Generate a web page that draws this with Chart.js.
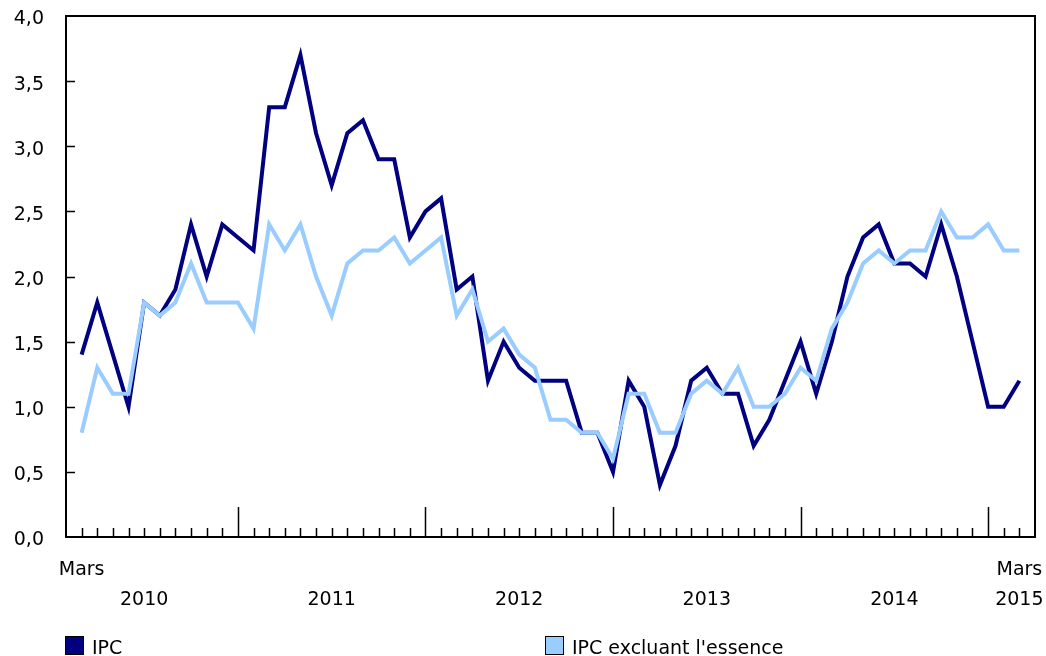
<!DOCTYPE html>
<html lang="fr">
<head>
<meta charset="utf-8">
<title>IPC et IPC excluant l'essence</title>
<script src="https://cdn.jsdelivr.net/npm/chart.js@4"></script>
<style>
  body { margin: 0; background: #fff; font-family: "DejaVu Sans", Verdana, sans-serif; }
  #wrap { position: relative; width: 1046px; height: 656px; overflow: hidden; }
  #chart { position: absolute; left: 0; top: 0; }
  .leg { position: absolute; top: 637px; font-size: 19px; line-height: 20px; color: #000; white-space: nowrap; }
  .leg span { display: inline-block; width: 17px; height: 17px; border: 1.5px solid #000; vertical-align: top; margin: -1px 8px 0 0; }
</style>
</head>
<body>
<div id="wrap">
  <canvas id="chart" width="1046" height="656"></canvas>
  <div class="leg" style="left:65px"><span style="background:#000080"></span>IPC</div>
  <div class="leg" style="left:545px"><span style="background:#99ccff"></span>IPC excluant l'essence</div>
</div>
<script>
// mars 2010 a mars 2015, variation en % d'une annee a l'autre
const premierMois = 'Mars';
const annees = ['2010', '2011', '2012', '2013', '2014', '2015'];
const ipc = [
  1.4, 1.8, 1.4, 1.0, 1.8, 1.7, 1.9, 2.4, 2.0, 2.4,
  2.3, 2.2, 3.3, 3.3, 3.7, 3.1, 2.7, 3.1, 3.2, 2.9, 2.9, 2.3,
  2.5, 2.6, 1.9, 2.0, 1.2, 1.5, 1.3, 1.2, 1.2, 1.2, 0.8, 0.8,
  0.5, 1.2, 1.0, 0.4, 0.7, 1.2, 1.3, 1.1, 1.1, 0.7, 0.9, 1.2,
  1.5, 1.1, 1.5, 2.0, 2.3, 2.4, 2.1, 2.1, 2.0, 2.4, 2.0, 1.5,
  1.0, 1.0, 1.2
];
const ipcSansEssence = [
  0.8, 1.3, 1.1, 1.1, 1.8, 1.7, 1.8, 2.1, 1.8, 1.8,
  1.8, 1.6, 2.4, 2.2, 2.4, 2.0, 1.7, 2.1, 2.2, 2.2, 2.3, 2.1,
  2.2, 2.3, 1.7, 1.9, 1.5, 1.6, 1.4, 1.3, 0.9, 0.9, 0.8, 0.8,
  0.6, 1.1, 1.1, 0.8, 0.8, 1.1, 1.2, 1.1, 1.3, 1.0, 1.0, 1.1,
  1.3, 1.2, 1.6, 1.8, 2.1, 2.2, 2.1, 2.2, 2.2, 2.5, 2.3, 2.3,
  2.4, 2.2, 2.2
];
const yTicks = [0, 0.5, 1, 1.5, 2, 2.5, 3, 3.5, 4];

const dernier = ipc.length - 1;
// index 0 = mars, donc janvier tombe quand (i + 2) % 12 == 0
const estJanvier = i => (i + 2) % 12 === 0;
const police = '19px "DejaVu Sans", Verdana, sans-serif';

const cadrePlugin = {
  id: 'cadre',
  afterDatasetsDraw(chart) {
    const { ctx, chartArea: a, scales: { x, y } } = chart;
    ctx.save();
    ctx.strokeStyle = '#000';

    // petites graduations vers l'interieur
    ctx.lineWidth = 1.5;
    ctx.beginPath();
    for (let i = 0; i <= dernier; i++) {
      const px = Math.round(x.getPixelForValue(i)) + 0.5;
      ctx.moveTo(px, a.bottom);
      ctx.lineTo(px, a.bottom - (estJanvier(i) ? 30 : 9));
    }
    yTicks.slice(1, -1).forEach(v => {
      const py = Math.round(y.getPixelForValue(v)) + 0.5;
      ctx.moveTo(a.left, py);
      ctx.lineTo(a.left + 9, py);
    });
    ctx.stroke();

    ctx.lineWidth = 2;
    ctx.strokeRect(a.left, a.top, a.right - a.left, a.bottom - a.top);

    // etiquettes de l'axe des x
    ctx.fillStyle = '#000';
    ctx.font = police;
    ctx.textAlign = 'center';
    ctx.textBaseline = 'middle';
    ctx.fillText(premierMois, x.getPixelForValue(0), a.bottom + 33);
    ctx.fillText(premierMois, x.getPixelForValue(dernier), a.bottom + 33);
    annees.forEach((an, k) => {
      // centre de l'annee civile (janvier 2010 = index -2), borne a la derniere donnee
      const centre = Math.min(-2 + k * 12 + 6, dernier);
      ctx.fillText(an, x.getPixelForValue(centre), a.bottom + 63);
    });
    ctx.restore();
  }
};

new Chart(document.getElementById('chart'), {
  type: 'line',
  data: {
    datasets: [
      {
        label: 'IPC',
        data: ipc.map((v, i) => ({ x: i, y: v })),
        borderColor: '#000080',
        borderWidth: 4,
        order: 1
      },
      {
        label: "IPC excluant l'essence",
        data: ipcSansEssence.map((v, i) => ({ x: i, y: v })),
        borderColor: '#99ccff',
        borderWidth: 4,
        order: 0
      }
    ]
  },
  options: {
    responsive: false,
    animation: false,
    elements: { point: { radius: 0 }, line: { tension: 0, borderJoinStyle: 'miter' } },
    layout: { padding: { top: 16, right: 11, bottom: 119, left: 0 } },
    plugins: { legend: { display: false }, tooltip: { enabled: false } },
    scales: {
      x: { type: 'linear', min: -1, max: ipc.length, display: false },
      y: {
        min: 0,
        max: 4,
        afterFit(s) { s.width = 66; s.paddingTop = 0; s.paddingBottom = 0; },
        afterBuildTicks(s) { s.ticks = yTicks.map(v => ({ value: v })); },
        grid: { display: false },
        border: { display: false },
        ticks: {
          padding: 14,
          labelOffset: 3.5,
          color: '#000',
          font: { family: '"DejaVu Sans", Verdana, sans-serif', size: 19 },
          callback: v => v.toFixed(1).replace('.', ',')
        }
      }
    }
  },
  plugins: [cadrePlugin]
});
</script>
</body>
</html>
